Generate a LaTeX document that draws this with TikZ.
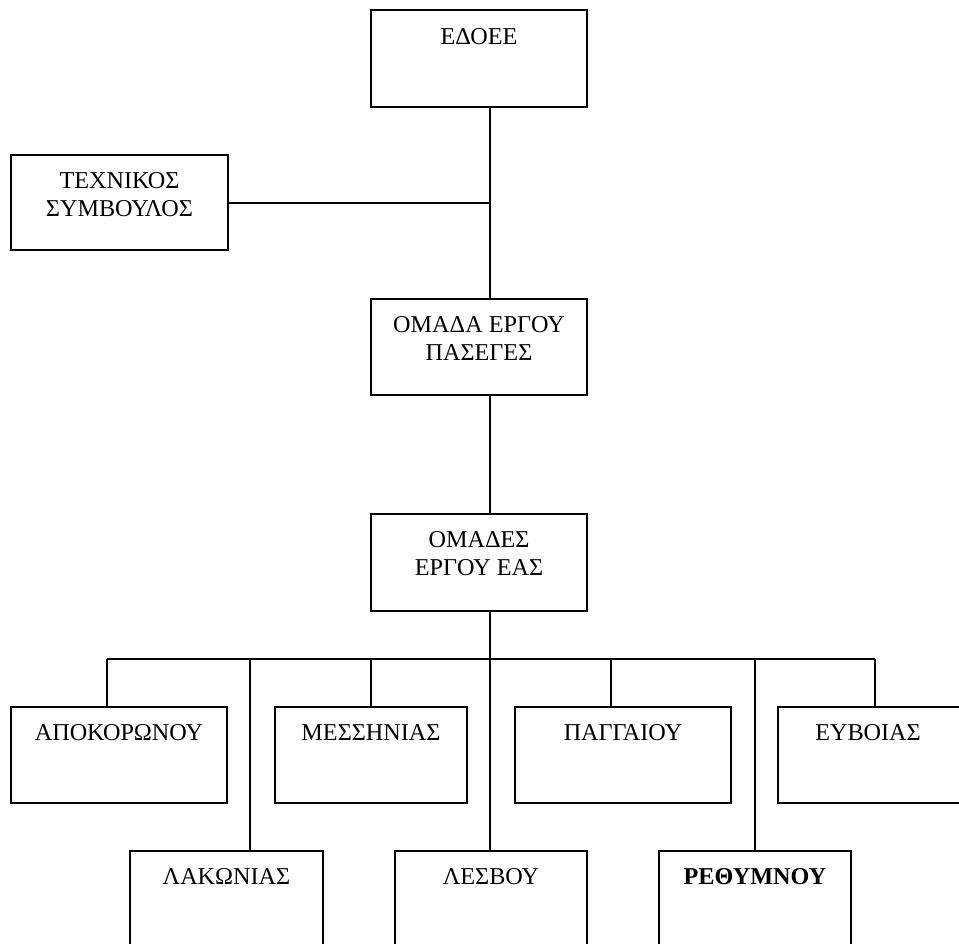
\documentclass[tikz,border=0pt]{standalone}
\usepackage{fontspec}
\setmainfont{Liberation Serif}
\tikzset{
  box/.style={draw, line width=1.1pt, inner sep=0pt, outer sep=0pt, rectangle},
  lbl/.style={anchor=base, inner sep=0pt, font=\fontsize{12.1}{14}\selectfont},
  conn/.style={line width=1pt}
}
\newcommand\mkbox[5]{\node[box, minimum width={(#4-#2)*0.5pt}, minimum height={(#5-#3)*0.5pt}] (#1) at ({(#2+#4)/2},{(#3+#5)/2}) {};}
\begin{document}
\begin{tikzpicture}[x=0.5pt, y=-0.5pt]
\useasboundingbox (0,0) rectangle (959,943);
\clip (0,0) rectangle (959,943);
% boxes
\mkbox{edoee}{371}{10}{587}{107}
\mkbox{texn}{11}{155}{228}{250}
\mkbox{omada}{371}{299}{587}{395}
\mkbox{omades}{371}{514}{587}{611}
\mkbox{apok}{11}{707}{227}{803}
\mkbox{mess}{275}{707}{467}{803}
\mkbox{pagg}{515}{707}{731}{803}
\mkbox{evv}{778}{707}{994}{803}
\mkbox{lak}{130}{851}{323}{990}
\mkbox{lesv}{395}{851}{587}{990}
\mkbox{reth}{659}{851}{851}{990}
% labels
\node[lbl] (tedoee) at (479,44) {ΕΔΟΕΕ};
\node[lbl] (ttexn1) at (119.5,188) {ΤΕΧΝΙΚΟΣ};
\node[lbl] (ttexn2) at (119.5,216) {ΣΥΜΒΟΥΛΟΣ};
\node[lbl] (tomada1) at (479,332) {ΟΜΑΔΑ ΕΡΓΟΥ};
\node[lbl] (tomada2) at (479,360) {ΠΑΣΕΓΕΣ};
\node[lbl] (tomades1) at (479,547) {ΟΜΑΔΕΣ};
\node[lbl] (tomades2) at (479,575) {ΕΡΓΟΥ ΕΑΣ};
\node[lbl] (tapok) at (119,740) {ΑΠΟΚΟΡΩΝΟΥ};
\node[lbl] (tmess) at (371,740) {ΜΕΣΣΗΝΙΑΣ};
\node[lbl] (tpagg) at (623,740) {ΠΑΓΓΑΙΟΥ};
\node[lbl] (tevv) at (868,740) {ΕΥΒΟΙΑΣ};
\node[lbl] (tlak) at (226.5,884) {ΛΑΚΩΝΙΑΣ};
\node[lbl] (tlesv) at (491,884) {ΛΕΣΒΟΥ};
\node[lbl, font=\fontsize{12.1}{14}\selectfont\bfseries] (treth) at (755,884) {ΡΕΘΥΜΝΟΥ};
% connector coordinates
\coordinate (spine) at (490,0);
\coordinate (busL) at (107,659);
\coordinate (busR) at (875,659);
\coordinate (d1) at (107,659);
\coordinate (d2) at (250,659);
\coordinate (d3) at (371,659);
\coordinate (d4) at (490,659);
\coordinate (d5) at (611,659);
\coordinate (d6) at (755,659);
\coordinate (d7) at (875,659);
% connectors
\draw[conn] (edoee.south -| spine) -- (omada.north -| spine);
\draw[conn] (texn.east) -- (texn.east -| spine);
\draw[conn] (omada.south -| spine) -- (omades.north -| spine);
\draw[conn] (omades.south -| spine) -- (lesv.north -| spine);
\draw[conn] (busL) -- (busR);
\draw[conn] (d1) -- (d1 |- apok.north);
\draw[conn] (d2) -- (d2 |- lak.north);
\draw[conn] (d3) -- (d3 |- mess.north);
\draw[conn] (d5) -- (d5 |- pagg.north);
\draw[conn] (d6) -- (d6 |- reth.north);
\draw[conn] (d7) -- (d7 |- evv.north);
\end{tikzpicture}
\end{document}
